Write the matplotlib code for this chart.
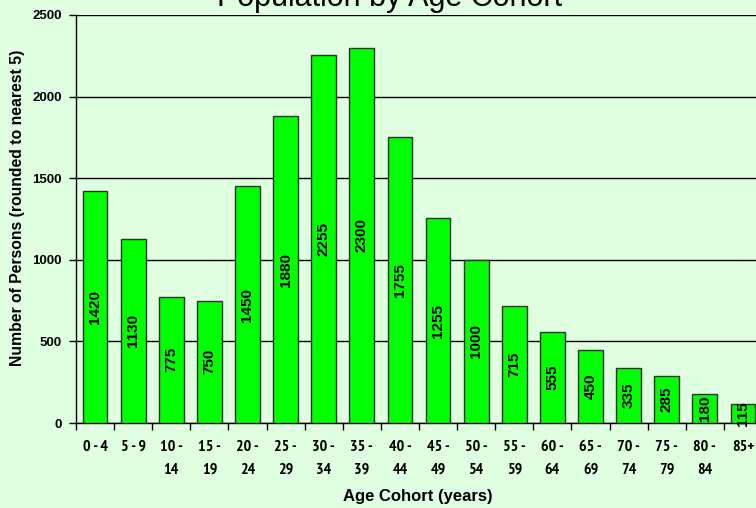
import matplotlib
matplotlib.use("Agg")
import matplotlib.pyplot as plt
from matplotlib import font_manager as fm

categories = ["0 - 4", "5 - 9", "10 -\n14", "15 -\n19", "20 -\n24", "25 -\n29",
              "30 -\n34", "35 -\n39", "40 -\n44", "45 -\n49", "50 -\n54", "55 -\n59",
              "60 -\n64", "65 -\n69", "70 -\n74", "75 -\n79", "80 -\n84", "85+"]
values = [1420, 1130, 775, 750, 1450, 1880, 2255, 2300, 1755, 1255, 1000, 715,
          555, 450, 335, 285, 180, 115]
yticks = [0, 500, 1000, 1500, 2000, 2500]

names = {f.name for f in fm.fontManager.ttflist}
narrow = "Liberation Sans"
for cand in ["Liberation Sans Narrow", "Arial Narrow", "PT Sans Narrow", "Roboto Condensed",
             "Barlow Semi Condensed", "Asap Condensed"]:
    if cand in names:
        narrow = cand
        break
base = "Liberation Sans"

bg = "#E0FFE0"
W, H = 756, 508
fig = plt.figure(figsize=(W / 100, H / 100), dpi=100, facecolor=bg)
ax_l, ax_r, ax_t, ax_b = 76, 762, 15, 423
ax = fig.add_axes([ax_l / W, 1 - ax_b / H, (ax_r - ax_l) / W, (ax_b - ax_t) / H])
ax.set_facecolor(bg)

x = list(range(len(categories)))
ax.set_axisbelow(True)
ax.yaxis.grid(True, color="black", linewidth=1)
bars = ax.bar(x, values, width=0.65, color="#00FF00", edgecolor="#303030", linewidth=1, zorder=3)
for xi, v in zip(x, values):
    ax.text(xi, v / 2, str(v), rotation=90, ha="center", va="center",
            fontsize=11, fontweight="bold", family=base, zorder=4)

ax.set_xlim(-0.5, len(categories) - 0.5)
ax.set_ylim(0, 2500)
ax.set_yticks(yticks)
ax.set_yticklabels([str(t) for t in yticks], fontsize=9.5, fontweight="bold", family=base)
ax.set_xticks([i - 0.5 for i in x], minor=False)
ax.set_xticklabels([])
ax.set_xticks(x, minor=True)
ax.set_xticklabels(categories, minor=True, fontsize=11.5, fontweight="bold", family=narrow,
                   linespacing=1.85)
ax.tick_params(axis="x", which="minor", length=0, pad=12)
ax.tick_params(axis="x", which="major", length=5, width=1, direction="out")
ax.tick_params(axis="y", length=5, width=1, direction="out", pad=5)
for s in ["top", "right"]:
    ax.spines[s].set_visible(False)
for s in ["left", "bottom"]:
    ax.spines[s].set_linewidth(1)

fig.text(418 / W, 1 - 497 / H, "Age Cohort (years)", ha="center", va="center",
         fontsize=12, fontweight="bold", family=base)
fig.text(18 / W, 1 - 208 / H, "Number of Persons (rounded to nearest 5)",
         rotation=90, ha="center", va="center", fontsize=11.3, fontweight="bold", family=base)
fig.text(390 / W, 1 - 6 / H, "Population by Age Cohort", ha="center", va="baseline",
         fontsize=22, family=base)

fig.savefig("out.png", dpi=100, facecolor=bg)
